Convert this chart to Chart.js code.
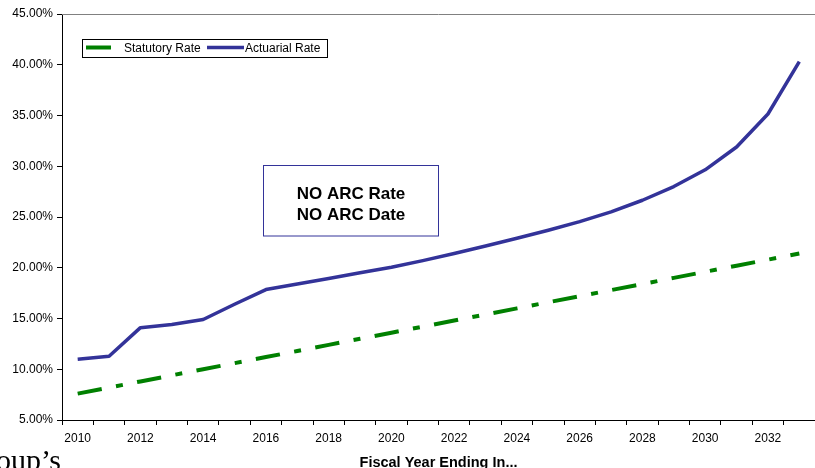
<!DOCTYPE html>
<html>
<head>
<meta charset="utf-8">
<script src="https://cdn.jsdelivr.net/npm/chart.js@4/dist/chart.umd.min.js"></script>
<style>
  html, body { margin: 0; padding: 0; background: #fff; overflow: hidden; }
  #wrap { position: relative; width: 815px; height: 468px; overflow: hidden; }
  #wrap canvas { position: absolute; left: 0; top: 0; }
  #cut { position: absolute; left: -4px; top: 445px; font: 30px "Liberation Serif", "Times New Roman", serif;
         line-height: 30px; color: #000; white-space: nowrap; }
</style>
</head>
<body>
<div id="wrap">
  <canvas id="chart" width="815" height="468"></canvas>
  <div id="cut">oup’s</div>
</div>
<script>
// Fiscal years on the category axis
const years = ['2010','2011','2012','2013','2014','2015','2016','2017','2018','2019','2020','2021',
               '2022','2023','2024','2025','2026','2027','2028','2029','2030','2031','2032','2033'];

// Contribution rates, in percent of payroll
const statutoryRate = [7.6, 8.2, 8.8, 9.4, 10.0, 10.6, 11.2, 11.8, 12.4, 13.0, 13.6, 14.2,
                       14.8, 15.4, 16.0, 16.6, 17.2, 17.8, 18.4, 19.0, 19.6, 20.2, 20.8, 21.4];
const actuarialRate = [10.98, 11.28, 14.1, 14.4, 14.9, 16.4, 17.85, 18.4, 18.95, 19.5, 20.05, 20.7,
                       21.4, 22.15, 22.9, 23.7, 24.55, 25.5, 26.65, 28.0, 29.65, 31.9, 35.15, 40.3];

// Years that carry a label on the x axis
const xTickLabels = ['2010','2012','2014','2016','2018','2020','2022','2024','2026','2028','2030','2032'];

// Note shown inside the plot
const noteLines = ['NO ARC Rate', 'NO ARC Date'];

const FONT = '"Liberation Sans", Arial, Helvetica, sans-serif';

const decorations = {
  id: 'decorations',
  beforeDatasetsDraw(chart) {
    const { ctx, chartArea: a } = chart;
    ctx.save();
    ctx.strokeStyle = '#808080';
    ctx.lineWidth = 1;
    ctx.beginPath();
    ctx.moveTo(a.left, a.top + 0.5);
    ctx.lineTo(a.right, a.top + 0.5);
    ctx.stroke();
    ctx.restore();
  },
  afterDraw(chart) {
    const { ctx } = chart;
    const ds = chart.data.datasets;
    ctx.save();

    // legend box
    ctx.fillStyle = '#fff';
    ctx.fillRect(82.5, 39.5, 245, 18);
    ctx.strokeStyle = '#000';
    ctx.lineWidth = 1;
    ctx.strokeRect(82.5, 39.5, 245, 18);

    ctx.font = '12px ' + FONT;
    ctx.textBaseline = 'middle';
    ctx.textAlign = 'left';
    const items = [
      { d: ds[0], x0: 86, x1: 111, tx: 124 },
      { d: ds[1], x0: 207, x1: 244, tx: 245 }
    ];
    items.forEach(it => {
      ctx.strokeStyle = it.d.borderColor;
      ctx.lineWidth = it.d.borderWidth;
      ctx.setLineDash([]);
      ctx.beginPath();
      ctx.moveTo(it.x0, 47.5);
      ctx.lineTo(it.x1, 47.5);
      ctx.stroke();
      ctx.fillStyle = '#000';
      ctx.fillText(it.d.label, it.tx, 49);
    });

    // note box
    ctx.strokeStyle = '#333399';
    ctx.lineWidth = 1;
    ctx.strokeRect(263.5, 165.5, 175, 70.5);
    ctx.fillStyle = '#000';
    ctx.font = 'bold 17px ' + FONT;
    ctx.textAlign = 'center';
    ctx.textBaseline = 'alphabetic';
    ctx.fillText(noteLines[0], 351, 199);
    ctx.fillText(noteLines[1], 351, 219.5);

    ctx.restore();
  }
};

new Chart(document.getElementById('chart'), {
  type: 'line',
  data: {
    labels: years,
    datasets: [
      {
        label: 'Statutory Rate',
        data: statutoryRate,
        borderColor: '#008000',
        borderWidth: 4,
        borderDash: [24.5, 14.5, 7, 14.5],
        borderCapStyle: 'butt',
        pointRadius: 0,
        tension: 0,
        fill: false
      },
      {
        label: 'Actuarial Rate',
        data: actuarialRate,
        borderColor: '#333399',
        borderWidth: 3.5,
        borderJoinStyle: 'round',
        pointRadius: 0,
        tension: 0,
        fill: false
      }
    ]
  },
  options: {
    responsive: false,
    animation: false,
    devicePixelRatio: 1,
    layout: { padding: { top: 14, left: 0, right: 0, bottom: 0 } },
    plugins: {
      legend: { display: false },
      tooltip: { enabled: false }
    },
    scales: {
      x: {
        type: 'category',
        offset: true,
        grid: {
          offset: true,
          drawOnChartArea: false,
          drawTicks: true,
          tickLength: 5,
          tickColor: '#000'
        },
        border: { color: '#000', width: 1 },
        ticks: {
          autoSkip: false,
          maxRotation: 0,
          minRotation: 0,
          padding: 6,
          color: '#000',
          font: { family: FONT, size: 12 },
          callback(value, index) {
            const y = years[index];
            return xTickLabels.includes(y) ? y : '';
          }
        },
        title: {
          display: true,
          text: 'Fiscal Year Ending In...',
          color: '#000',
          font: { family: FONT, size: 14.5, weight: 'bold' },
          padding: { top: 0, bottom: -3.5 }
        },
        afterFit(scale) { scale.height = 48; }
      },
      y: {
        min: 5,
        max: 45,
        grid: {
          drawOnChartArea: false,
          drawTicks: true,
          tickLength: 5,
          tickColor: '#000'
        },
        border: { color: '#000', width: 1 },
        ticks: {
          stepSize: 5,
          padding: 4,
          color: '#000',
          font: { family: FONT, size: 12 },
          callback(value) { return value.toFixed(2) + '%'; }
        },
        afterFit(scale) { scale.width = 62; }
      }
    }
  },
  plugins: [decorations]
});
</script>
</body>
</html>
